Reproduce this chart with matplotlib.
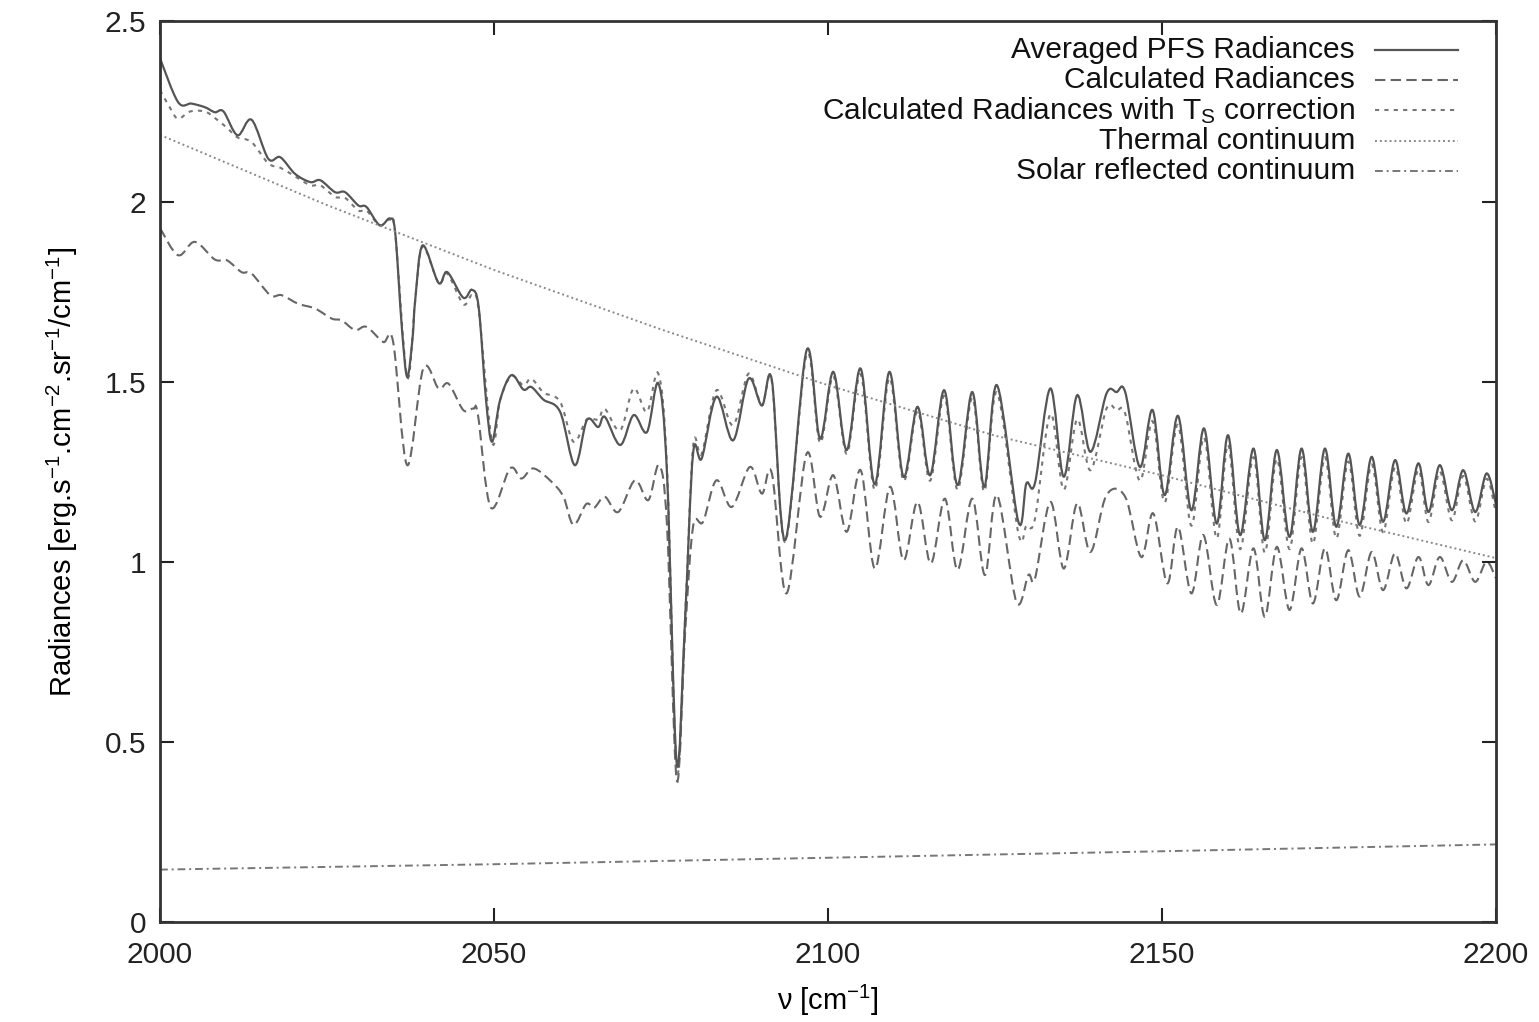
import matplotlib.pyplot as plt
import numpy as np
from matplotlib.path import Path
from matplotlib.patches import PathPatch

plt.rcParams['font.family'] = ['Liberation Sans', 'DejaVu Sans']
plt.rcParams['mathtext.fontset'] = 'custom'
plt.rcParams['mathtext.rm'] = 'Liberation Sans'
plt.rcParams['mathtext.it'] = 'Liberation Sans'

# Averaged PFS spectrum (wavenumber, radiance)
pfs_wn = [2000.0, 2002.7, 2004.7, 2006.7, 2008.2, 2009.5, 2011.6, 2013.7, 2016.2, 2018.0,
          2020.2, 2022.5, 2024.0, 2026.2, 2027.7, 2029.7, 2030.9, 2032.9, 2034.4, 2035.2,
          2036.2, 2037.0, 2037.8, 2038.2, 2039.3, 2041.7, 2043.0, 2045.4, 2046.7, 2047.7,
          2048.8, 2049.7, 2050.9, 2052.6, 2054.4, 2055.6, 2057.4, 2059.9, 2062.1, 2063.9,
          2065.6, 2066.6, 2068.9, 2070.9, 2072.9, 2074.6, 2075.9, 2077.35, 2078.6, 2079.8,
          2081.1, 2083.3, 2085.8, 2088.1, 2090.1, 2091.6, 2093.6, 2096.8, 2098.8, 2100.8,
          2102.8, 2104.9, 2107.0, 2109.2, 2111.3, 2113.4, 2115.3, 2117.4, 2119.4, 2121.6,
          2123.4, 2125.3, 2128.5, 2129.7, 2131.0, 2133.3, 2135.3, 2137.3, 2139.3, 2141.7,
          2143.2, 2144.5, 2146.7, 2148.6, 2150.4, 2152.4, 2154.4, 2156.3, 2158.2, 2159.9,
          2161.7, 2163.7, 2165.4, 2167.2, 2169.1, 2170.9, 2172.6, 2174.4, 2176.1, 2177.9,
          2179.6, 2181.4, 2183.1, 2184.9, 2186.6, 2188.4, 2189.9, 2191.6, 2193.4, 2195.1,
          2196.9, 2198.6, 2200.0]
pfs_rad = [2.397, 2.276, 2.272, 2.262, 2.248, 2.250, 2.184, 2.227, 2.119, 2.123,
           2.077, 2.054, 2.059, 2.026, 2.026, 1.989, 1.985, 1.934, 1.953, 1.915,
           1.650, 1.513, 1.620, 1.726, 1.878, 1.774, 1.804, 1.733, 1.755, 1.707,
           1.450, 1.333, 1.448, 1.518, 1.478, 1.485, 1.450, 1.416, 1.268, 1.393,
           1.374, 1.402, 1.324, 1.407, 1.360, 1.495, 1.245, 0.440, 0.838, 1.300,
           1.287, 1.458, 1.337, 1.508, 1.434, 1.504, 1.060, 1.587, 1.342, 1.527,
           1.310, 1.536, 1.215, 1.527, 1.236, 1.430, 1.240, 1.476, 1.213, 1.471,
           1.208, 1.490, 1.111, 1.217, 1.219, 1.481, 1.236, 1.462, 1.305, 1.467,
           1.471, 1.471, 1.263, 1.421, 1.185, 1.405, 1.143, 1.370, 1.106, 1.351,
           1.074, 1.314, 1.060, 1.310, 1.069, 1.314, 1.083, 1.314, 1.097, 1.300,
           1.102, 1.291, 1.111, 1.282, 1.134, 1.273, 1.138, 1.268, 1.143, 1.254,
           1.138, 1.245, 1.160]

# Synthetic radiances
calc_wn = [2000.0, 2002.7, 2005.2, 2008.2, 2010.0, 2012.2, 2013.7, 2016.5, 2018.2, 2020.7,
           2023.2, 2025.7, 2027.2, 2029.2, 2030.9, 2033.4, 2034.9, 2037.0, 2039.4, 2041.7,
           2043.2, 2045.4, 2046.9, 2047.6, 2049.5, 2052.4, 2054.1, 2055.9, 2058.6, 2060.4,
           2061.9, 2063.8, 2065.0, 2066.6, 2068.6, 2071.1, 2073.1, 2074.7, 2075.9, 2077.35,
           2078.6, 2079.8, 2081.3, 2083.3, 2085.6, 2088.3, 2090.1, 2091.6, 2093.8, 2096.8,
           2098.8, 2100.8, 2102.8, 2104.9, 2107.0, 2109.3, 2111.3, 2113.4, 2115.4, 2117.5,
           2119.4, 2121.6, 2123.5, 2125.3, 2128.2, 2130.0, 2131.0, 2133.3, 2135.3, 2137.3,
           2139.3, 2141.7, 2144.5, 2146.9, 2148.7, 2150.8, 2152.4, 2154.4, 2156.2, 2158.2,
           2160.1, 2161.8, 2163.7, 2165.4, 2167.2, 2169.1, 2170.9, 2172.6, 2174.4, 2176.1,
           2177.9, 2179.6, 2181.4, 2183.1, 2184.9, 2186.6, 2188.4, 2189.9, 2191.6, 2193.4,
           2195.1, 2196.9, 2198.6, 2200.0]
calc_rad = [1.926, 1.851, 1.888, 1.839, 1.837, 1.804, 1.800, 1.740, 1.740, 1.716,
            1.703, 1.675, 1.670, 1.643, 1.652, 1.610, 1.610, 1.268, 1.536, 1.481,
            1.494, 1.421, 1.425, 1.407, 1.151, 1.259, 1.231, 1.259, 1.222, 1.180,
            1.102, 1.160, 1.150, 1.180, 1.138, 1.226, 1.171, 1.268, 1.100, 0.394,
            0.800, 1.097, 1.111, 1.226, 1.152, 1.263, 1.189, 1.245, 0.912, 1.300,
            1.125, 1.240, 1.083, 1.254, 0.981, 1.208, 1.004, 1.166, 0.995, 1.175,
            0.977, 1.175, 0.963, 1.185, 0.889, 0.963, 0.954, 1.166, 0.981, 1.162,
            1.027, 1.185, 1.180, 1.013, 1.134, 0.940, 1.097, 0.912, 1.074, 0.880,
            1.064, 0.856, 1.037, 0.847, 1.041, 0.866, 1.037, 0.884, 1.037, 0.893,
            1.032, 0.903, 1.027, 0.921, 1.023, 0.926, 1.013, 0.935, 1.013, 0.944,
            1.004, 0.944, 1.000, 0.954]

# Synthetic radiances after surface temperature correction
ts_wn = [2000.0, 2001.5, 2002.7, 2004.5, 2006.7, 2008.2, 2010.0, 2011.6, 2013.7, 2016.2,
         2018.0, 2020.2, 2022.5, 2024.0, 2026.2, 2027.7, 2029.7, 2030.9, 2032.9, 2034.4,
         2035.2, 2037.0, 2038.2, 2039.3, 2041.7, 2043.0, 2045.4, 2046.7, 2047.7, 2049.7,
         2050.9, 2052.6, 2054.4, 2055.6, 2057.4, 2059.9, 2061.9, 2063.9, 2065.6, 2066.6,
         2068.9, 2070.9, 2072.9, 2074.6, 2075.9, 2077.35, 2078.6, 2079.8, 2081.1, 2083.3,
         2085.8, 2088.1, 2090.1, 2091.6, 2093.6, 2096.8, 2098.8, 2100.8, 2102.8, 2104.9,
         2107.0, 2109.2, 2111.3, 2113.4, 2115.3, 2117.4, 2119.4, 2121.6, 2123.4, 2125.3,
         2128.5, 2129.7, 2131.0, 2133.3, 2135.3, 2137.3, 2139.3, 2141.7, 2143.2, 2144.5,
         2146.7, 2148.6, 2150.4, 2152.4, 2154.4, 2156.3, 2158.2, 2159.9, 2161.7, 2163.7,
         2165.4, 2167.2, 2169.1, 2170.9, 2172.6, 2174.4, 2176.1, 2177.9, 2179.6, 2181.4,
         2183.1, 2184.9, 2186.6, 2188.4, 2189.9, 2191.6, 2193.4, 2195.1, 2196.9, 2198.6,
         2200.0]
ts_rad = [2.309, 2.260, 2.230, 2.250, 2.250, 2.232, 2.205, 2.178, 2.165, 2.106,
          2.094, 2.070, 2.045, 2.045, 2.013, 2.010, 1.975, 1.975, 1.934, 1.950,
          1.912, 1.513, 1.726, 1.875, 1.774, 1.800, 1.715, 1.740, 1.700, 1.333,
          1.448, 1.515, 1.490, 1.508, 1.470, 1.444, 1.333, 1.395, 1.395, 1.424,
          1.365, 1.481, 1.416, 1.522, 1.260, 0.420, 0.840, 1.319, 1.300, 1.476,
          1.379, 1.522, 1.434, 1.500, 1.055, 1.575, 1.330, 1.515, 1.300, 1.520,
          1.200, 1.510, 1.225, 1.418, 1.225, 1.460, 1.200, 1.455, 1.195, 1.470,
          1.079, 1.100, 1.120, 1.410, 1.200, 1.395, 1.254, 1.425, 1.420, 1.411,
          1.225, 1.390, 1.165, 1.380, 1.100, 1.345, 1.065, 1.325, 1.035, 1.290,
          1.025, 1.285, 1.035, 1.290, 1.050, 1.290, 1.065, 1.278, 1.072, 1.270,
          1.082, 1.262, 1.106, 1.255, 1.110, 1.250, 1.115, 1.238, 1.112, 1.230,
          1.135]

# Continua
thermal_wn = [2000, 2025, 2050, 2075, 2100, 2125, 2150, 2175, 2200]
thermal_rad = [2.185, 1.990, 1.810, 1.645, 1.490, 1.350, 1.240, 1.120, 1.010]
solar_wn = [2000, 2050, 2100, 2150, 2200]
solar_rad = [0.145, 0.160, 0.178, 0.196, 0.215]

labels = ['Averaged PFS Radiances', 'Calculated Radiances',
          'Calculated Radiances with T$_\\mathrm{S}$ correction',
          'Thermal continuum', 'Solar reflected continuum']

styles = [
    dict(color='#555555', lw=1.6, ls='-'),
    dict(color='#666666', lw=1.5, ls=(0, (5, 2.5))),
    dict(color='#777777', lw=1.5, ls=(0, (2, 2.5))),
    dict(color='#8a8a8a', lw=1.4, ls=(0, (1, 1.5))),
    dict(color='#777777', lw=1.4, ls=(0, (4, 2, 1, 2))),
]


def smooth_path(x, y):
    # Bezier path passing through every point (Catmull-Rom tangents)
    p = np.column_stack([x, y]).astype(float)
    n = len(p)
    verts = [p[0]]
    codes = [Path.MOVETO]
    for i in range(n - 1):
        p0 = p[max(i - 1, 0)]
        p1 = p[i]
        p2 = p[i + 1]
        p3 = p[min(i + 2, n - 1)]
        verts += [p1 + (p2 - p0) / 6, p2 - (p3 - p1) / 6, p2]
        codes += [Path.CURVE4] * 3
    return Path(verts, codes)


fig = plt.figure(figsize=(15.39, 10.22), dpi=100)
ax = fig.add_axes([0.104, 0.098, 0.868, 0.881])

ax.plot(solar_wn, solar_rad, **styles[4])
ax.plot(thermal_wn, thermal_rad, **styles[3])
# spectra drawn as smooth curves, measured one on top
for (x, y), st in [((calc_wn, calc_rad), styles[1]), ((ts_wn, ts_rad), styles[2]),
                   ((pfs_wn, pfs_rad), styles[0])]:
    ax.add_patch(PathPatch(smooth_path(x, y), fill=False, edgecolor=st['color'],
                           lw=st['lw'], ls=st['ls']))

ax.set_xlim(2000, 2200)
ax.set_ylim(0, 2.5)
ax.set_xticks([2000, 2050, 2100, 2150, 2200])
ax.set_yticks([0, 0.5, 1, 1.5, 2, 2.5])
ax.set_yticklabels(['0', '0.5', '1', '1.5', '2', '2.5'])
ax.tick_params(direction='in', length=10, width=1.5, labelsize=21.5,
               top=True, right=True, pad=10, colors='#222222')
ax.tick_params(axis='x', pad=14)
for sp in ax.spines.values():
    sp.set_linewidth(2)
    sp.set_color('#333333')

ax.set_xlabel('ν [cm$^{-1}$]', fontsize=21, labelpad=10)
ax.set_ylabel('Radiances [erg.s$^{-1}$.cm$^{-2}$.sr$^{-1}$/cm$^{-1}$]', fontsize=21, labelpad=18)

# key in the upper right, text right-aligned with line samples after it
row_y = [50, 80, 110, 141, 171]
for lab, st, py in zip(labels, styles, row_y):
    yf = (922 - py) / 901
    ax.text((1355 - 160) / 1336, yf, lab, transform=ax.transAxes,
            ha='right', va='center', fontsize=21.5, color='#111111')
    ax.plot([(1375 - 160) / 1336, (1458 - 160) / 1336], [yf, yf],
            transform=ax.transAxes, **st)

fig.savefig('out.png', dpi=100)
